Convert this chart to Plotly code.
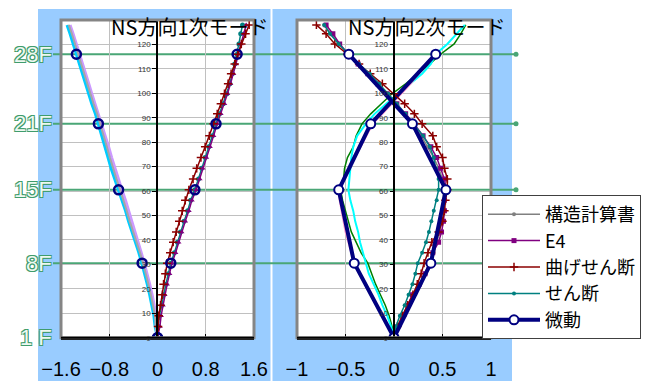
import plotly.graph_objects as go

# ---------------- data ----------------
# heights of floor levels (m)
H = [0, 4.6, 9.0, 13.3, 17.6, 21.9, 26.2, 30.5, 34.8, 39.1, 43.3, 47.6, 51.9, 56.2, 60.5,
     64.9, 69.3, 73.7, 78.1, 82.6, 87.5, 91.6, 95.7, 99.8, 103.9, 108.0, 112.0, 116.0,
     120.2, 124.4, 128.0]
H_MICRO = [0, 30.5, 60.5, 87.5, 116.0]

FLOOR_LABELS = ["28F", "21F", "15F", "8F", "1 F"]
FLOOR_H = [116.0, 87.5, 60.5, 30.5, 0.0]
GREEN_LINE_H = [116.0, 87.5, 60.5, 30.5]

# --- NS 1st mode ---
teal1 = [0, 0.01, 0.03, 0.07, 0.10, 0.14, 0.18, 0.22, 0.28, 0.33, 0.38, 0.44, 0.50, 0.55, 0.62,
         0.68, 0.73, 0.79, 0.85, 0.91, 0.97, 1.03, 1.09, 1.15, 1.20, 1.24, 1.28, 1.32, 1.35, 1.38, 1.41]
purple1 = [0, 0.04, 0.06, 0.09, 0.12, 0.16, 0.20, 0.24, 0.30, 0.35, 0.40, 0.46, 0.52, 0.57, 0.64,
           0.70, 0.75, 0.81, 0.87, 0.93, 0.99, 1.05, 1.11, 1.16, 1.21, 1.26, 1.30, 1.34, 1.38, 1.43, 1.47]
red1 = [0, 0.01, 0.02, 0.05, 0.08, 0.10, 0.13, 0.16, 0.21, 0.26, 0.31, 0.36, 0.41, 0.46, 0.52,
        0.59, 0.65, 0.72, 0.79, 0.86, 0.93, 0.99, 1.05, 1.11, 1.17, 1.22, 1.28, 1.33, 1.39, 1.46, 1.52]
cyan1 = [0, -0.04, -0.06, -0.09, -0.13, -0.17, -0.21, -0.26, -0.31, -0.37, -0.43, -0.48, -0.53, -0.59, -0.65,
         -0.71, -0.77, -0.82, -0.87, -0.92, -0.98, -1.03, -1.09, -1.14, -1.19, -1.24, -1.30, -1.35, -1.40, -1.45, -1.50]
gray1 = [0, -0.03, -0.04, -0.07, -0.11, -0.15, -0.19, -0.24, -0.29, -0.35, -0.40, -0.46, -0.51, -0.56, -0.62,
         -0.68, -0.74, -0.79, -0.84, -0.89, -0.95, -1.00, -1.06, -1.11, -1.16, -1.21, -1.27, -1.32, -1.37, -1.42, -1.47]
lav1 = [0, -0.02, -0.02, -0.05, -0.09, -0.13, -0.17, -0.22, -0.27, -0.32, -0.37, -0.43, -0.48, -0.53, -0.59,
        -0.65, -0.71, -0.76, -0.81, -0.87, -0.93, -0.98, -1.04, -1.09, -1.14, -1.19, -1.25, -1.30, -1.35, -1.40, -1.45]
micro1_pos = [0, 0.22, 0.62, 0.97, 1.32]
micro1_neg = [0, -0.255, -0.645, -0.98, -1.345]

# --- NS 2nd mode ---
gray2 = [0, 0.05, 0.11, 0.16, 0.21, 0.27, 0.33, 0.38, 0.41, 0.44, 0.47, 0.49, 0.51, 0.52, 0.53,
         0.50, 0.46, 0.41, 0.35, 0.28, 0.19, 0.10, 0.01, -0.08, -0.17, -0.27, -0.37, -0.47, -0.57, -0.65, -0.72]
purple2 = [0, 0.04, 0.09, 0.14, 0.19, 0.26, 0.32, 0.36, 0.40, 0.46, 0.49, 0.51, 0.52, 0.52, 0.54,
           0.52, 0.48, 0.44, 0.38, 0.30, 0.21, 0.12, 0.03, -0.07, -0.17, -0.27, -0.37, -0.47, -0.56, -0.63, -0.70]
red2 = [0, 0.035, 0.085, 0.14, 0.195, 0.24, 0.28, 0.31, 0.35, 0.39, 0.46, 0.50, 0.52, 0.53, 0.55,
        0.55, 0.52, 0.50, 0.44, 0.40, 0.29, 0.21, 0.11, 0.0, -0.12, -0.245, -0.36, -0.48, -0.61, -0.70, -0.80]
teal2 = [0, 0.02, 0.06, 0.11, 0.15, 0.19, 0.22, 0.245, 0.29, 0.33, 0.36, 0.385, 0.41, 0.44, 0.46,
         0.46, 0.43, 0.41, 0.37, 0.30, 0.20, 0.12, 0.03, -0.06, -0.15, -0.25, -0.36, -0.46, -0.57, -0.66, -0.72]
micro2_a = [0, 0.38, 0.535, 0.19, -0.466]
micro2_b = [0, -0.41, -0.57, -0.24, 0.43]
cyan2 = [0, -0.03, -0.07, -0.12, -0.16, -0.21, -0.26, -0.29, -0.32, -0.35, -0.37, -0.40, -0.42, -0.45, -0.47,
         -0.46, -0.45, -0.44, -0.42, -0.38, -0.29, -0.20, -0.08, 0.04, 0.16, 0.29, 0.38, 0.43, 0.55, 0.65, 0.73]
green2 = [0, -0.02, -0.05, -0.09, -0.14, -0.19, -0.23, -0.27, -0.34, -0.39, -0.44, -0.47, -0.50, -0.53, -0.55,
          -0.52, -0.51, -0.48, -0.42, -0.39, -0.33, -0.24, -0.13, -0.02, 0.12, 0.25, 0.37, 0.48, 0.62, 0.69, 0.74]
pink2 = [0, -0.06, -0.12, -0.18, -0.24, -0.30, -0.36, -0.41, -0.44, -0.47, -0.50, -0.52, -0.54, -0.56, -0.57,
         -0.52, -0.46, -0.40, -0.34, -0.28, -0.22, -0.12, -0.02, 0.08, 0.17, 0.25, 0.33, 0.42]

X1_TICKS = [-1.6, -0.8, 0, 0.8, 1.6]
X1_TEXT = ["−1.6", "−0.8", "0", "0.8", "1.6"]
X2_TICKS = [-1, -0.5, 0, 0.5, 1]
X2_TEXT = ["−1", "−0.5", "0", "0.5", "1"]
Y_TICKS = [0, 10, 20, 30, 40, 50, 60, 70, 80, 90, 100, 110, 120]

NAMES = ["構造計算書", "E4", "曲げせん断", "せん断", "微動"]
TITLES = ["NS方向1次モード", "NS方向2次モード"]

# ---------------- layout helpers ----------------
W, HT = 662, 381
def fx(px):
    return px / W
def fy(py):
    return 1 - py / HT

XD1 = [fx(61), fx(254)]
XD2 = [fx(297), fx(491)]
YD = [fy(337.7), fy(20)]

GRAY, PURPLE, RED, TEAL, NAVY = "#808080", "#800080", "#8b0000", "#008080", "#000080"

fig = go.Figure()

def line(x, y, color, width, ax, name=None, legend=False, marker=None, mode="lines"):
    xa, ya = ("x", "y") if ax == 1 else ("x2", "y2")
    fig.add_trace(go.Scatter(x=x, y=y, mode=mode, name=name, showlegend=legend,
                             line=dict(color=color, width=width),
                             marker=marker, xaxis=xa, yaxis=ya, hoverinfo="skip"))

RED_MARK = dict(symbol="cross-thin", size=6, color=RED, line=dict(color=RED, width=1.5))

# ---- mode 1 (left) ----
line(cyan1, H, "#00ccff", 3, 1)
line(lav1, H, "#cc99ff", 3, 1)
line(gray1, H, "#a6a6a6", 2, 1)
line(teal1, H, TEAL, 1.5, 1, mode="lines+markers", marker=dict(symbol="circle", size=5, color=TEAL))
line(purple1, H, PURPLE, 1.5, 1, mode="lines+markers", marker=dict(symbol="triangle-up", size=5, color=PURPLE))
line(red1, H, RED, 1.5, 1, mode="lines+markers", marker=RED_MARK)
line(micro1_neg, H_MICRO, NAVY, 0, 1, mode="markers",
     marker=dict(symbol="circle", size=9, color="rgba(255,255,255,0)", line=dict(color=NAVY, width=2.5)))
line(micro1_pos, H_MICRO, NAVY, 0, 1, mode="markers",
     marker=dict(symbol="circle", size=9, color="rgba(255,255,255,0)", line=dict(color=NAVY, width=2.5)))

# ---- mode 2 (right) ----
line(green2, H, "#008000", 1.5, 2)
line(cyan2, H, "#00ffff", 2, 2)
line(pink2, H[:len(pink2)], "#ff99cc", 2, 2)
line(micro2_b, H_MICRO, NAVY, 4, 2, mode="lines+markers",
     marker=dict(symbol="circle", size=9, color="white", line=dict(color=NAVY, width=2)))
line(gray2, H, GRAY, 1.5, 2, name=NAMES[0], legend=True, mode="lines+markers",
     marker=dict(symbol="circle", size=4, color=GRAY))
line(purple2, H, PURPLE, 1.5, 2, name=NAMES[1], legend=True, mode="lines+markers",
     marker=dict(symbol="square", size=5, color=PURPLE))
line(red2, H, RED, 1.5, 2, name=NAMES[2], legend=True, mode="lines+markers", marker=RED_MARK)
line(teal2, H, TEAL, 1.5, 2, name=NAMES[3], legend=True, mode="lines+markers",
     marker=dict(symbol="circle", size=4, color=TEAL))
line(micro2_a, H_MICRO, NAVY, 4, 2, name=NAMES[4], legend=True, mode="lines+markers",
     marker=dict(symbol="circle", size=9, color="white", line=dict(color=NAVY, width=2)))

# ---------------- shapes ----------------
shapes = []
shapes.append(dict(type="rect", xref="paper", yref="paper", x0=fx(38), x1=fx(270.5), y0=0, y1=fy(9),
                   fillcolor="#99ccff", line=dict(width=0), layer="below"))
shapes.append(dict(type="rect", xref="paper", yref="paper", x0=fx(272.5), x1=fx(512), y0=0, y1=fy(9),
                   fillcolor="#99ccff", line=dict(width=0), layer="below"))
for xd in (XD1, XD2):
    shapes.append(dict(type="rect", xref="paper", yref="paper", x0=xd[0], x1=xd[1], y0=YD[0], y1=YD[1],
                       fillcolor="white", line=dict(width=0), layer="below"))
for h in GREEN_LINE_H:
    shapes.append(dict(type="line", xref="paper", yref="y", x0=fx(53), x1=fx(516), y0=h, y1=h,
                       line=dict(color="#4aa676", width=2), layer="between"))
    shapes.append(dict(type="circle", xref="paper", yref="y", xsizemode="pixel", ysizemode="pixel",
                       xanchor=fx(516), yanchor=h, x0=-2.5, x1=2.5, y0=-2.5, y1=2.5,
                       fillcolor="#4aa676", line=dict(width=0), layer="above"))
for xd in (XD1, XD2):
    shapes.append(dict(type="rect", xref="paper", yref="paper", x0=xd[0], x1=xd[1], y0=YD[0], y1=YD[1],
                       line=dict(color="#858585", width=3), layer="above"))
    shapes.append(dict(type="line", xref="paper", yref="paper", x0=xd[0], x1=xd[1], y0=YD[0], y1=YD[0],
                       line=dict(color="black", width=2), layer="above"))

# ---------------- annotations ----------------
ann = []
for t, px in zip(TITLES, (109, 346)):
    ann.append(dict(text=t, xref="paper", yref="paper", x=fx(px), y=fy(26),
                    xanchor="left", yanchor="middle", showarrow=False,
                    font=dict(family="Noto Sans CJK JP", size=20, color="black")))
outline = "-1px -1px 0 #3f9c6c, 1px -1px 0 #3f9c6c, -1px 1px 0 #3f9c6c, 1px 1px 0 #3f9c6c"
for lab, h in zip(FLOOR_LABELS, FLOOR_H):
    ann.append(dict(text=lab, xref="paper", yref="y", x=fx(54), y=h, xanchor="right", yanchor="middle",
                    showarrow=False,
                    font=dict(family="Liberation Sans", size=22, color="#eef8f1", shadow=outline)))

axis_common = dict(showgrid=True, gridcolor="#c0c0c0", gridwidth=1, zeroline=False, automargin=False)

def xaxis(dom, rng, anchor, tv, tt):
    return dict(domain=dom, range=rng, anchor=anchor, tickvals=tv, ticktext=tt,
                ticks="inside", ticklen=4, tickcolor="black", ticklabelstandoff=12,
                showline=True, linecolor="black", linewidth=2,
                tickfont=dict(family="Liberation Sans", size=20, color="black"), **axis_common)

def yaxis(pos):
    return dict(domain=YD, range=[0, 130], anchor="free", position=pos,
                tickmode="array", tickvals=Y_TICKS,
                ticks="outside", ticklen=4, tickcolor="black",
                showline=True, linecolor="black", linewidth=1.5,
                tickfont=dict(family="Liberation Sans", size=8, color="#333333"), **axis_common)

fig.update_layout(
    width=W, height=HT,
    margin=dict(l=0, r=0, t=0, b=0, autoexpand=False),
    paper_bgcolor="white", plot_bgcolor="rgba(0,0,0,0)",
    shapes=shapes, annotations=ann,
    xaxis=xaxis(XD1, [-1.6, 1.6], "y", X1_TICKS, X1_TEXT),
    yaxis=yaxis(fx(157)),
    xaxis2=xaxis(XD2, [-1, 1], "y2", X2_TICKS, X2_TEXT),
    yaxis2=yaxis(fx(394.3)),
    legend=dict(x=fx(482), y=fy(195), xanchor="left", yanchor="top",
                bgcolor="white", bordercolor="#404040", borderwidth=1,
                itemwidth=52, tracegroupgap=0,
                font=dict(family="Noto Sans CJK JP", size=18, color="black")),
    showlegend=True,
)

fig.write_html("out.html")
